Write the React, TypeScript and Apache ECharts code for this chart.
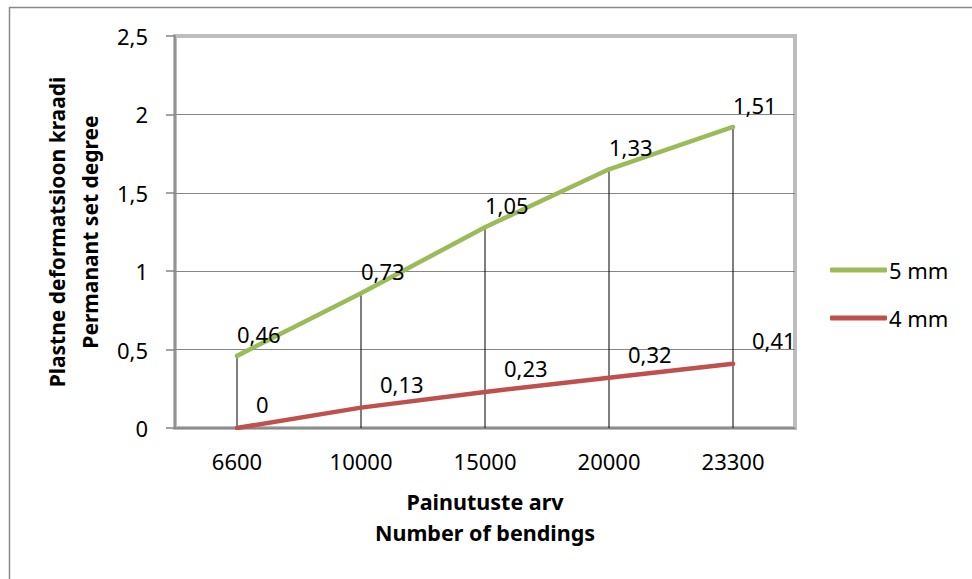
import React, { useEffect, useRef } from "react";
import * as echarts from "echarts";

// Number of bendings (category axis)
const bendings = ["6600", "10000", "15000", "20000", "23300"];
// Permanent set degree per wire diameter
const set4mm = [0, 0.13, 0.23, 0.32, 0.41];
const set5mm = [0.46, 0.73, 1.05, 1.33, 1.51];
// Value axis ticks
const yMin = 0;
const yMax = 2.5;
const yStep = 0.5;

const FONT = "'Noto Sans', 'Open Sans', sans-serif";
const comma = (v: number) => String(v).replace(".", ",");

export default function App() {
  const ref = useRef<HTMLDivElement>(null);

  useEffect(() => {
    if (!ref.current) return;
    const chart = echarts.init(ref.current, undefined, { renderer: "svg" });

    // drop lines run from the top of the stack down to the category axis
    const stackTops = set4mm.map((v, i) => v + set5mm[i]);

    chart.setOption({
      animation: false,
      backgroundColor: "#ffffff",
      textStyle: { fontFamily: FONT },
      graphic: [
        {
          type: "rect",
          shape: { x: 9.5, y: 7.5, width: 1100, height: 800 },
          style: { fill: "none", stroke: "#8a8a8a", lineWidth: 1.5 },
          silent: true,
          z: -10,
        },
      ],
      grid: {
        left: 175,
        right: 177,
        top: 36,
        bottom: 151,
        show: true,
        borderColor: "#bdbdbd",
        borderWidth: 4,
        backgroundColor: "transparent",
      },
      legend: {
        orient: "vertical",
        left: 825,
        top: 252,
        data: ["5 mm", "4 mm"],
        icon: "roundRect",
        itemWidth: 57,
        itemHeight: 5,
        itemGap: 22,
        textStyle: { fontSize: 22, color: "#000", fontFamily: FONT, lineHeight: 26, padding: [0, 0, 0, -3] },
      },
      xAxis: {
        type: "category",
        data: bendings,
        boundaryGap: true,
        axisLine: { show: true, lineStyle: { color: "#868686", width: 1.5 } },
        axisTick: { show: false },
        axisLabel: { fontSize: 22, color: "#000", margin: 22, fontFamily: FONT },
        splitLine: { show: false },
        name: "Painutuste arv\nNumber of bendings",
        nameLocation: "middle",
        nameGap: 58,
        nameTextStyle: { fontSize: 21.5, fontWeight: "bold", color: "#000", lineHeight: 31, fontFamily: FONT },
      },
      yAxis: {
        type: "value",
        min: yMin,
        max: yMax,
        interval: yStep,
        axisLine: { show: true, lineStyle: { color: "#868686", width: 1.5 } },
        axisTick: { show: true, length: 9, lineStyle: { color: "#868686", width: 1.5 } },
        axisLabel: { fontSize: 22, color: "#000", margin: 27, fontFamily: FONT, formatter: (v: number) => comma(v) },
        splitLine: { show: true, showMaxLine: false, lineStyle: { color: "#868686", width: 1 } },
        name: "Plastne deformatsioon kraadi\nPermanant set degree",
        nameLocation: "middle",
        nameGap: 55,
        nameTextStyle: { fontSize: 21, fontWeight: "bold", color: "#000", lineHeight: 33, fontFamily: FONT },
      },
      series: [
        {
          name: "drop",
          type: "bar",
          data: stackTops,
          barWidth: 1,
          itemStyle: { color: "#000" },
          silent: true,
          z: 1,
        },
        {
          name: "4 mm",
          type: "line",
          stack: "total",
          data: set4mm,
          symbol: "circle",
          symbolSize: 4,
          showSymbol: true,
          itemStyle: { color: "#c0504d" },
          lineStyle: { color: "#c0504d", width: 4.5, cap: "round" },
          label: {
            show: true,
            position: "top",
            distance: 5,
            align: "left",
            offset: [19, -6],
            fontSize: 22,
            color: "#000",
            fontFamily: FONT,
            formatter: (p: any) => comma(p.value),
          },
          z: 3,
        },
        {
          name: "5 mm",
          type: "line",
          stack: "total",
          data: set5mm,
          symbol: "circle",
          symbolSize: 4,
          showSymbol: true,
          itemStyle: { color: "#9bbb59" },
          lineStyle: { color: "#9bbb59", width: 4.5, cap: "round" },
          label: {
            show: true,
            position: "top",
            distance: 5,
            align: "left",
            offset: [0, -4],
            fontSize: 22,
            color: "#000",
            fontFamily: FONT,
            formatter: (p: any) => comma(p.value),
          },
          z: 3,
        },
      ],
    });

    return () => chart.dispose();
  }, []);

  return (
    <div
      ref={ref}
      style={{ position: "fixed", left: 0, top: 0, width: 972, height: 579, background: "#fff" }}
    />
  );
}
